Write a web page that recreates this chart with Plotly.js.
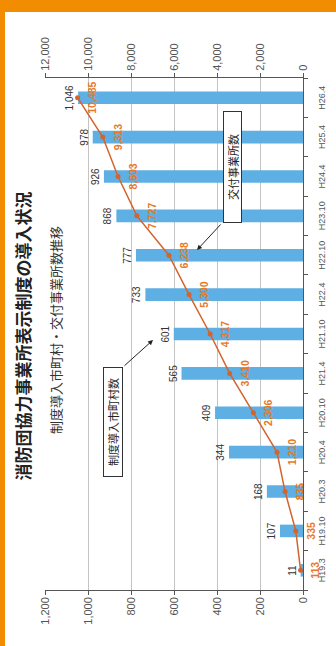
<!DOCTYPE html>
<html><head><meta charset="utf-8">
<script src="https://cdn.plot.ly/plotly-3.0.1.min.js"></script>
<style>
html,body{margin:0;padding:0;width:336px;height:646px;overflow:hidden;background:#fff;}
#frameTop{position:absolute;left:0;top:0;width:336px;height:12px;background:#F28C00;z-index:2}
#frameLeft{position:absolute;left:0;top:0;width:5px;height:646px;background:#F28C00;z-index:2}
#chart{position:absolute;left:0;top:0;width:646px;height:336px;transform-origin:0 0;transform:translateY(646px) rotate(-90deg);}
</style></head><body>
<div id="chart"></div><div id="frameTop"></div><div id="frameLeft"></div>
<script>
const categories = ['H19.3','H19.10','H20.3','H20.4','H20.10','H21.4','H21.10','H22.4','H22.10','H23.10','H24.4','H25.4','H26.4'];
const municipalities = [11,107,168,344,409,565,601,733,777,868,926,978,1046];
const businesses = [113,335,835,1210,2306,3410,4317,5300,6238,7727,8603,9313,10485];
const leftTicks = [0,200,400,600,800,1000,1200];
const rightTicks = [0,2000,4000,6000,8000,10000,12000];

const fmt = v => v.toLocaleString('en-US');
const numFont = 'Liberation Sans, Arial, sans-serif';
const jpFont = 'Noto Sans CJK JP, sans-serif';

const bars = {
  type:'bar', x:categories, y:municipalities, yaxis:'y', width:0.32,
  marker:{color:'#5EAFE4'},
  text:municipalities.map(fmt), textposition:'outside', textangle:0,
  constraintext:'none', cliponaxis:false,
  textfont:{family:numFont,size:10,color:'#333'},
  hoverinfo:'skip'
};
const line = {
  type:'scatter', mode:'lines+markers', x:categories, y:businesses, yaxis:'y2',
  line:{color:'#D4632C',width:1.5},
  marker:{color:'#D4632C',size:5},
  cliponaxis:false, hoverinfo:'skip'
};
const lineLabels = {
  type:'scatter', mode:'markers+text', x:categories, y:businesses, yaxis:'y2',
  marker:{color:'rgba(0,0,0,0)',size:16},
  text:businesses.map(fmt), textposition:'bottom center', cliponaxis:false,
  textfont:{family:numFont,size:10.5,color:'#E8782A',weight:700},
  hoverinfo:'skip'
};

const layout = {
  width:646, height:336,
  margin:{l:56,r:78,t:45,b:33},
  paper_bgcolor:'rgba(0,0,0,0)', plot_bgcolor:'rgba(0,0,0,0)',
  showlegend:false,
  font:{family:numFont,color:'#555'},
  title:{text:'消防団協力事業所表示制度の導入状況', x:310/646, xanchor:'center', y:1-24/336, yanchor:'middle',
         font:{family:jpFont,size:17,color:'#222',weight:700}},
  xaxis:{type:'category', categoryarray:categories, range:[-0.5,12.5],
         showline:true, linecolor:'#555', linewidth:1,
         ticks:'outside', tickson:'boundaries', ticklen:4, tickcolor:'#555',
         ticklabelstandoff:10,
         tickfont:{family:numFont,size:9,color:'#555'}, tickangle:0, showgrid:false},
  yaxis:{range:[0,1200], tickvals:leftTicks, ticktext:leftTicks.map(fmt),
         showline:true, linecolor:'#555', ticks:'outside', ticklen:4, tickcolor:'#555',
         showgrid:true, gridcolor:'#c4c4c4', zeroline:false,
         tickfont:{family:numFont,size:11,color:'#555'}},
  yaxis2:{range:[0,12000], tickvals:rightTicks, ticktext:rightTicks.map(fmt),
          overlaying:'y', side:'right', showgrid:false, zeroline:false,
          showline:true, linecolor:'#555', ticks:'outside', ticklen:4, tickcolor:'#555',
          tickfont:{family:numFont,size:11,color:'#555'}},
  annotations:[
    {xref:'paper', yref:'paper', x:(316-56)/512, y:(303-56)/258, xanchor:'center', yanchor:'middle', showarrow:false,
     text:'制度導入市町村・交付事業所数推移', font:{family:jpFont,size:13,color:'#333'}},
    {xref:'paper', yref:'paper', x:(479-56)/512, y:(303-232)/258, xanchor:'center', yanchor:'middle', showarrow:false,
     text:'交付事業所数', width:108, height:15, align:'center', font:{family:jpFont,size:11,color:'#222'},
     bordercolor:'#333', borderwidth:1, borderpad:1, bgcolor:'#fff'},
    {xref:'paper', yref:'paper', x:(396-56)/512, y:(303-197)/258, ax:27, ay:25, text:'',
     showarrow:true, arrowhead:2, arrowsize:1, arrowwidth:1, arrowcolor:'#222'},
    {xref:'paper', yref:'paper', x:(224-56)/512, y:(303-113)/258, xanchor:'center', yanchor:'middle', showarrow:false,
     text:'制度導入市町村数', width:106, height:16, align:'center', font:{family:jpFont,size:11,color:'#222'},
     bordercolor:'#333', borderwidth:1, borderpad:1, bgcolor:'#fff'},
    {xref:'paper', yref:'paper', x:(306-56)/512, y:(303-153)/258, ax:-27, ay:-30, text:'',
     showarrow:true, arrowhead:2, arrowsize:1, arrowwidth:1, arrowcolor:'#222'}
  ]
};
Plotly.newPlot('chart',[bars,line,lineLabels],layout,{staticPlot:true,displayModeBar:false});
</script>
</body></html>
